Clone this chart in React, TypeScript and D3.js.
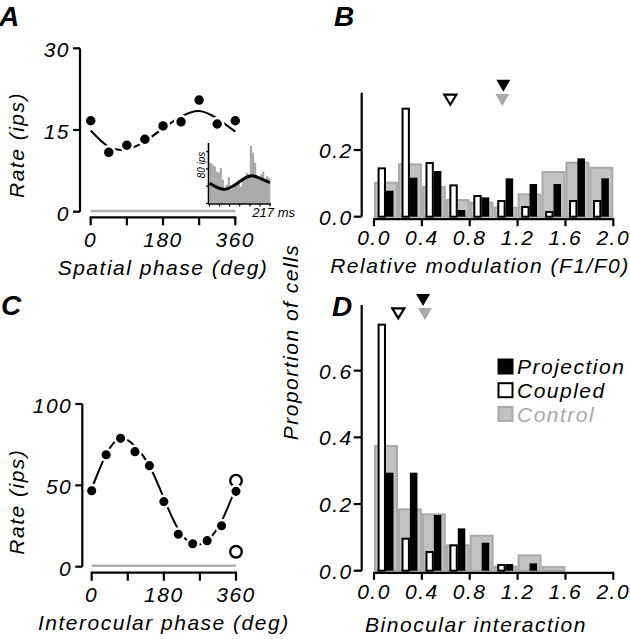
import React from 'react';
import * as d3 from 'd3';

// ---------- data ----------
const A_PHASE = [0, 45, 90, 135, 180, 225, 270, 315, 360];
const A_RATE = [16.7, 10.9, 12.2, 13.3, 15.75, 16.5, 20.5, 16.1, 16.7];
const A_FIT = [14.9, 11.9, 11.45, 12.9, 15.3, 17.45, 18.5, 17.1, 14.7];
const A_YTICKS = [0, 15, 30];
const PHASE_TICKS = [0, 90, 180, 270, 360];
const PHASE_LABELS = [0, 180, 360];

const INSET_RATE = [94, 90, 86, 74, 71, 82, 55, 31, 43, 61, 31, 35, 43, 47, 51, 39, 55, 63, 71, 67, 133, 118, 94, 63, 55, 67, 74, 55, 63, 59];
const INSET_FIT_T = [0, 25, 52, 75, 100, 125, 150, 175, 200, 217];
const INSET_FIT = [47, 38, 33, 37, 47, 58, 64, 60, 53, 48];
const INSET_DURATION = 217;
const INSET_XTICKS = [0, 36, 72, 108, 145, 181, 217];

const C_PHASE = [0, 36, 72, 108, 144, 180, 216, 252, 288, 324, 360];
const C_RATE = [46.7, 68.8, 78.9, 70.7, 62.1, 40, 19.9, 14.1, 16, 25.2, 46.3];
const C_FIT = [48, 69, 79, 74, 62, 42, 23, 14, 16, 28, 49];
const C_OPEN = [52.9, 9.2];
const C_YTICKS = [0, 50, 100];

const BIN_STARTS = [0, 0.2, 0.4, 0.6, 0.8, 1.0, 1.2, 1.4, 1.6, 1.8];
const X_TICKS = [0, 0.4, 0.8, 1.2, 1.6, 2.0];

const B_CONTROL = [0.105, 0.16, 0.092, 0.053, 0.045, 0.03, 0.07, 0.137, 0.165, 0.15];
const B_PROJECTION = [0.078, 0.117, 0.137, 0.02, 0.058, 0.115, 0.098, 0.098, 0.175, 0.115];
const B_COUPLED = [0.148, 0.327, 0.164, 0.097, 0.065, 0.05, 0.032, 0.017, 0.05, 0.05];
const B_MEANS = { coupled: 0.638, projection: 1.081, control: 1.073 };
const B_YTICKS = [0, 0.2];

const D_CONTROL = [0.377, 0.187, 0.172, 0.079, 0.108, 0.015, 0.049, 0.014, 0, 0];
const D_PROJECTION = [0.294, 0.294, 0.167, 0.127, 0.084, 0.02, 0.022, 0, 0, 0];
const D_COUPLED = [0.741, 0.099, 0.059, 0.079, 0, 0.02, 0, 0, 0, 0];
const D_MEANS = { coupled: 0.203, projection: 0.41, control: 0.426 };
const D_YTICKS = [0, 0.2, 0.4, 0.6];

const LEGEND = ['Projection', 'Coupled', 'Control'];

// ---------- style ----------
const FONT = "'Liberation Sans', Arial, Helvetica, sans-serif";
const FS = 21;
const LS = 1.5;
const GRAY_FILL = '#c2c2c2';
const GRAY_STROKE = '#a9a9a9';
const GRAY_LINE = '#b0b0b0';
const AXW = 2.2;

const txt = (extra: any = {}) => ({
  fontFamily: FONT,
  fontStyle: 'italic',
  fontSize: FS,
  letterSpacing: LS,
  fill: '#000',
  ...extra,
});

function TuningPanel(props: any) {
  const { xs, ys, phase, rate, fit, yTicks, xAxisY, yAxisX, tickLen, labelDy, title, titleY, yTitleY, grayY, r, open } = props;
  const fitLine = d3.line<number>().x((_, i) => xs(phase[i])).y((d) => ys(d)).curve(d3.curveNatural);
  const [y0, y1] = ys.range();
  const [x0, x1] = xs.range();
  return (
    <g>
      <line x1={yAxisX} x2={yAxisX} y1={y1} y2={y0} stroke="#000" strokeWidth={AXW} />
      {yTicks.map((t: number) => (
        <g key={t}>
          <line x1={yAxisX - 7} x2={yAxisX} y1={ys(t)} y2={ys(t)} stroke="#000" strokeWidth={AXW} />
          <text x={yAxisX - 10} y={ys(t) + 9} textAnchor="end" style={txt()}>{t}</text>
        </g>
      ))}
      <line x1={x0} x2={x1} y1={grayY} y2={grayY} stroke={GRAY_LINE} strokeWidth={2.4} />
      <line x1={x0 - 1} x2={x1 + 1} y1={xAxisY} y2={xAxisY} stroke="#000" strokeWidth={AXW} />
      {PHASE_TICKS.map((t) => (
        <line key={t} x1={xs(t)} x2={xs(t)} y1={xAxisY} y2={xAxisY + tickLen} stroke="#000" strokeWidth={AXW} />
      ))}
      {PHASE_LABELS.map((t) => (
        <text key={t} x={xs(t)} y={xAxisY + labelDy} textAnchor="middle" style={txt()}>{t}</text>
      ))}
      <text x={(x0 + x1) / 2} y={titleY} textAnchor="middle" style={txt()}>{title}</text>
      <text transform={`translate(23.5,${yTitleY}) rotate(-90)`} textAnchor="middle" style={txt()}>Rate (ips)</text>
      <path d={fitLine(fit) || ''} fill="none" stroke="#000" strokeWidth={2} />
      {open && open.map((v: number, i: number) => (
        <circle key={'o' + i} cx={xs(360)} cy={ys(v)} r={r} fill="#fff" stroke="#000" strokeWidth={2.4} />
      ))}
      {rate.map((v: number, i: number) => (
        <circle key={i} cx={xs(phase[i])} cy={ys(v)} r={r} fill="#000" stroke="#fff" strokeWidth={2.5} />
      ))}
    </g>
  );
}

function Histogram(props: any) {
  const { xs, ys, control, projection, coupled, yTicks, xAxisY, means, tri, title, titleY } = props;
  const [yBase, yTop] = ys.range();
  const yAxisX = 361.7;
  const tri0 = (cx: number, apex: number, w: number, h: number) =>
    `M${cx - w / 2},${apex - h}L${cx + w / 2},${apex - h}L${cx},${apex}Z`;
  return (
    <g>
      {BIN_STARTS.map((b, i) =>
        control[i] > 0 ? (
          <rect key={'g' + i} x={xs(b) + 1} width={xs(b + 0.2) - xs(b) - 2} y={ys(control[i]) + 1}
            height={Math.max(0, ys(0) - ys(control[i]) - 1)} fill={GRAY_FILL} stroke={GRAY_STROKE} strokeWidth={2} />
        ) : null
      )}
      {BIN_STARTS.map((b, i) =>
        coupled[i] > 0 ? (
          <rect key={'w' + i} x={xs(b + 0.03) + 1} width={xs(b + 0.1) - xs(b + 0.03) - 2} y={ys(coupled[i]) + 1}
            height={Math.max(0, ys(0) - ys(coupled[i]) - 1)} fill="#fff" stroke="#000" strokeWidth={2} />
        ) : null
      )}
      {BIN_STARTS.map((b, i) =>
        projection[i] > 0 ? (
          <rect key={'k' + i} x={xs(b + 0.1)} width={xs(b + 0.163) - xs(b + 0.1)} y={ys(projection[i])}
            height={ys(0) - ys(projection[i])} fill="#000" />
        ) : null
      )}
      <line x1={yAxisX} x2={yAxisX} y1={yTop} y2={yBase} stroke="#000" strokeWidth={AXW} />
      {yTicks.map((t: number) => (
        <g key={t}>
          <line x1={yAxisX - 8} x2={yAxisX} y1={ys(t)} y2={ys(t)} stroke="#000" strokeWidth={AXW} />
          <text x={yAxisX - 9} y={ys(t) + 8} textAnchor="end" style={txt()}>{t.toFixed(1)}</text>
        </g>
      ))}
      <line x1={xs(0) - 1} x2={xs(2) + 1} y1={xAxisY} y2={xAxisY} stroke="#000" strokeWidth={AXW} />
      {X_TICKS.map((t) => (
        <g key={t}>
          <line x1={xs(t)} x2={xs(t)} y1={xAxisY} y2={xAxisY + 7} stroke="#000" strokeWidth={AXW} />
          <text x={xs(t)} y={xAxisY + 26} textAnchor="middle" style={txt()}>{t.toFixed(1)}</text>
        </g>
      ))}
      <text x={props.titleX || 480} y={titleY} textAnchor="middle" style={txt()}>{title}</text>
      <path d={tri0(xs(means.projection), tri.proj, 14, 12)} fill="#000" />
      <path d={tri0(xs(means.control), tri.ctrl, 14, 12)} fill={GRAY_STROKE} />
      <path d={tri0(xs(means.coupled), tri.coup - 1, 12, 10)} fill="#fff" stroke="#000" strokeWidth={2.2} />
    </g>
  );
}

export default function App() {
  const axS = d3.scaleLinear().domain([0, 360]).range([90.7, 235.3]);
  const ayS = d3.scaleLinear().domain([0, 30]).range([211.7, 48.3]);
  const cxS = d3.scaleLinear().domain([0, 360]).range([91.7, 236]);
  const cyS = d3.scaleLinear().domain([0, 100]).range([566.7, 404]);
  const hx = d3.scaleLinear().domain([0, 2]).range([374, 613.3]);
  const byS = d3.scaleLinear().domain([0, 0.372]).range([216.7, 92.7]);
  const dyS = d3.scaleLinear().domain([0, 0.797]).range([570.7, 305]);
  const ix = d3.scaleLinear().domain([0, INSET_DURATION]).range([209.5, 270]);
  const iy = d3.scaleLinear().domain([0, 140]).range([203.5, 143]);
  const binW = INSET_DURATION / INSET_RATE.length;
  const insetLine = d3.line<number>().x((_, i) => ix(INSET_FIT_T[i])).y((d) => iy(d)).curve(d3.curveNatural);

  const letter = (x: number, y: number, s: string) => (
    <text x={x} y={y} style={{ fontFamily: FONT, fontStyle: 'italic', fontWeight: 'bold', fontSize: 28 }}>{s}</text>
  );

  const legendColors = [
    { fill: '#000', stroke: '#000', text: '#000' },
    { fill: '#fff', stroke: '#000', text: '#000' },
    { fill: GRAY_FILL, stroke: GRAY_STROKE, text: '#a8a8a8' },
  ];

  return (
    <svg width={630} height={639} style={{ position: 'absolute', left: 0, top: 0, background: '#fff' }}>
      <rect x={0} y={0} width={630} height={639} fill="#fff" />
      {letter(-1, 26, 'A')}
      {letter(334, 26, 'B')}
      {letter(1, 315, 'C')}
      {letter(332, 316, 'D')}

      <TuningPanel xs={axS} ys={ayS} phase={A_PHASE} rate={A_RATE} fit={A_FIT} yTicks={A_YTICKS}
        xAxisY={217.3} yAxisX={80} tickLen={8} labelDy={29.4} title="Spatial phase (deg)" titleY={275}
        yTitleY={145} grayY={211} r={6} />

      <g>
        {INSET_RATE.map((v, i) => (
          <rect key={i} x={ix(i * binW)} width={ix((i + 1) * binW) - ix(i * binW) + 0.3} y={iy(v)} height={iy(0) - iy(v)} fill="#a9a9a9" />
        ))}
        <path d={insetLine(INSET_FIT) || ''} fill="none" stroke="#000" strokeWidth={3} />
        <line x1={208.5} x2={208.5} y1={143} y2={204.3} stroke="#000" strokeWidth={1.6} />
        <line x1={208} x2={271} y1={204} y2={204} stroke="#000" strokeWidth={1.6} />
        {INSET_XTICKS.map((t) => (
          <line key={t} x1={ix(t)} x2={ix(t)} y1={204} y2={206.5} stroke="#000" strokeWidth={1.2} />
        ))}
        {[0, 40, 80, 120].map((t) => (
          <line key={t} x1={206} x2={208.5} y1={iy(t)} y2={iy(t)} stroke="#000" strokeWidth={1.2} />
        ))}
        <text transform={`translate(204.5,165) rotate(-90)`} textAnchor="middle"
          style={{ fontFamily: FONT, fontStyle: 'italic', fontSize: 10, fill: '#000' }}>80 ips</text>
        <text x={295} y={217} textAnchor="end"
          style={{ fontFamily: FONT, fontStyle: 'italic', fontSize: 13, fill: '#000' }}>217 ms</text>
      </g>

      <TuningPanel xs={cxS} ys={cyS} phase={C_PHASE} rate={C_RATE} fit={C_FIT} yTicks={C_YTICKS}
        xAxisY={572.7} yAxisX={82.3} tickLen={8} labelDy={29} title="Interocular phase (deg)" titleY={630}
        yTitleY={501.7} grayY={565.7} r={5.8} open={C_OPEN} />

      <Histogram xs={hx} ys={byS} control={B_CONTROL} projection={B_PROJECTION} coupled={B_COUPLED}
        yTicks={B_YTICKS} xAxisY={219.2} means={B_MEANS} tri={{ coup: 105.7, proj: 91.7, ctrl: 106 }}
        title="Relative modulation (F1/F0)" titleY={273.3} />

      <Histogram xs={hx} ys={dyS} control={D_CONTROL} projection={D_PROJECTION} coupled={D_COUPLED}
        yTicks={D_YTICKS} xAxisY={572.8} means={D_MEANS} tri={{ coup: 319.3, proj: 306, ctrl: 320 }}
        title="Binocular interaction" titleY={632} titleX={476} />

      <text transform={`translate(298,342) rotate(-90)`} textAnchor="middle" style={txt()}>Proportion of cells</text>

      {LEGEND.map((name, i) => (
        <g key={name}>
          <rect x={498.5} y={359.5 + i * 23.7} width={14} height={14} fill={legendColors[i].fill}
            stroke={legendColors[i].stroke} strokeWidth={2} />
          <text x={517} y={374 + i * 23.8} style={txt({ fill: legendColors[i].text })}>{name}</text>
        </g>
      ))}
    </svg>
  );
}
